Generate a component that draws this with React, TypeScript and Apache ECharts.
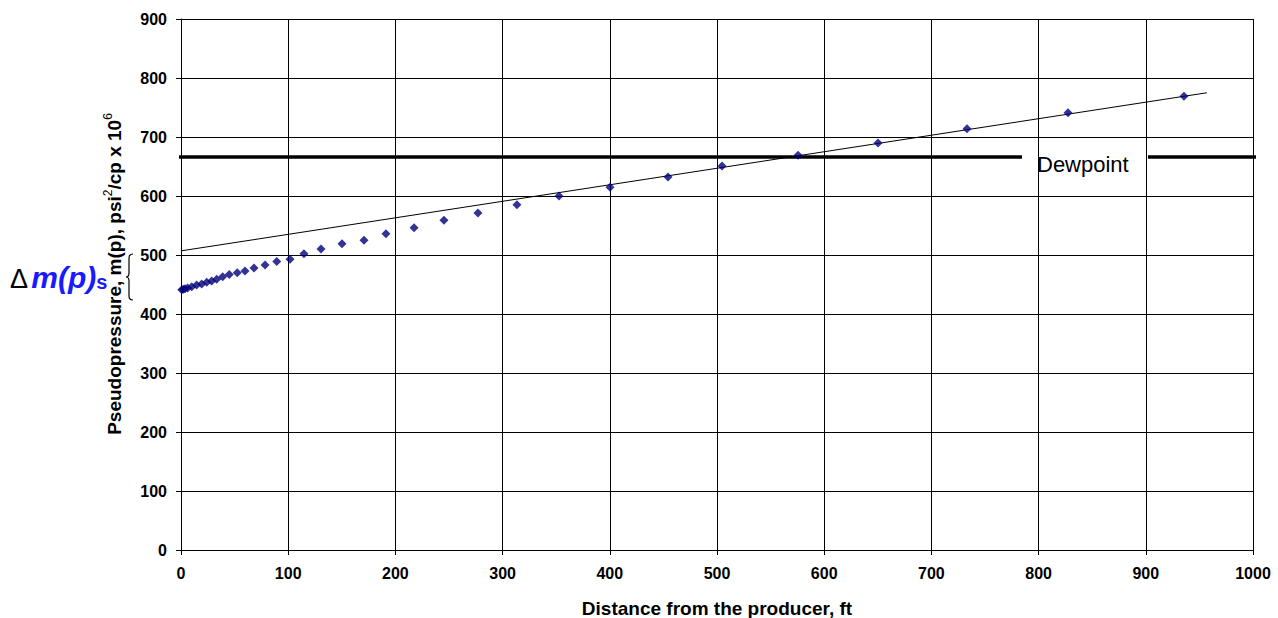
import React, { useEffect, useRef } from "react";
import * as echarts from "echarts";

const distanceFt = [
  0.7, 2.1, 3.7, 6.2, 10, 14.6, 19.3, 24, 28.6, 33.3, 38.9, 45, 52.5, 59.7, 68.1, 78.4, 89.3, 101.7,
  114.7, 130.6, 150.2, 170.7, 191.2, 217.4, 245.3, 277, 313.4, 352.6, 400.2, 454.3, 504.7, 575.6,
  650.2, 733.2, 827.4, 935.6,
];
const pseudoPressure = [
  441, 442, 443, 444, 446, 449, 451, 454, 456, 459, 463, 467, 470, 473, 478, 483, 489, 493,
  502, 510, 519, 525, 536, 546, 559, 571, 585, 600, 615, 632, 651, 669,
  690, 714, 741, 769,
];
const trendX = [0, 957];
const trendY = [507, 775];
const dewpointValue = 666;
const dewpointSegmentsX = [[-3, 784.5], [902, 1008]];
const xTicks = [0, 100, 200, 300, 400, 500, 600, 700, 800, 900, 1000];
const yTicks = [0, 100, 200, 300, 400, 500, 600, 700, 800, 900];

const FONT = "'Liberation Sans', Arial, sans-serif";

export default function App() {
  const ref = useRef<HTMLDivElement>(null);
  useEffect(() => {
    if (!ref.current) return;
    const bracePath =
      "M 7 0 Q 3 0 3 4 L 3 19 Q 3 23 0 23 Q 3 23 3 27 L 3 42 Q 3 46 7 46";
    echarts.graphic.registerShape("brace", echarts.graphic.extendPath(bracePath, {}) as any);
    const chart = echarts.init(ref.current, null, { renderer: "svg" });
    const points = distanceFt.map((x, i) => [x, pseudoPressure[i]]);
    const trend = trendX.map((x, i) => [x, trendY[i]]);
    const dewSeries = dewpointSegmentsX.map((seg) => ({
      type: "line",
      data: seg.map((x) => [x, dewpointValue]),
      symbol: "none",
      clip: false,
      lineStyle: { color: "#000", width: 3.5 },
      silent: true,
      z: 3,
    }));
    const labelStyle = {
      fontFamily: FONT,
      fontWeight: "bold",
      fontSize: 16,
      color: "#000",
      formatter: (v: number) => String(v),
    };
    chart.setOption({
      animation: false,
      grid: { left: 181, right: 25, top: 19, bottom: 68 },
      xAxis: {
        type: "value",
        min: xTicks[0],
        max: xTicks[xTicks.length - 1],
        interval: 100,
        axisLine: { lineStyle: { color: "#000", width: 1 } },
        axisTick: { show: true, length: 5, lineStyle: { color: "#000" } },
        axisLabel: { ...labelStyle, margin: 15 },
        splitLine: { show: true, lineStyle: { color: "#000", width: 1 } },
      },
      yAxis: {
        type: "value",
        min: yTicks[0],
        max: yTicks[yTicks.length - 1],
        interval: 100,
        axisLine: { show: true, lineStyle: { color: "#000", width: 1 } },
        axisTick: { show: true, length: 5, lineStyle: { color: "#000" } },
        axisLabel: { ...labelStyle, margin: 14 },
        splitLine: { show: true, lineStyle: { color: "#000", width: 1 } },
      },
      series: [
        ...dewSeries,
        {
          type: "line",
          data: trend,
          symbol: "none",
          lineStyle: { color: "#000", width: 1 },
          silent: true,
          z: 4,
        },
        {
          type: "scatter",
          data: points,
          symbol: "diamond",
          symbolSize: 9,
          itemStyle: { color: "#00007a" },
          z: 5,
        },
      ],
      graphic: [
        {
          type: "text",
          x: 717,
          y: 608,
          style: {
            text: "Distance from the producer, ft",
            fontFamily: FONT,
            fontWeight: "bold",
            fontSize: 19,
            fill: "#000",
            align: "center",
            verticalAlign: "middle",
          },
        },
        {
          type: "text",
          x: 113,
          y: 274,
          rotation: Math.PI / 2,
          style: {
            text: "{t|Pseudopressure, m(p), psi}{u|2}{t|/cp x 10}{u|6}",
            align: "center",
            verticalAlign: "middle",
            rich: {
              t: { fontFamily: FONT, fontWeight: "bold", fontSize: 19, fill: "#000", lineHeight: 22, verticalAlign: "bottom" },
              u: { fontFamily: FONT, fontWeight: "normal", fontSize: 12, fill: "#000", lineHeight: 12, verticalAlign: "top" },
            },
          },
        },
        {
          type: "text",
          left: 1037,
          top: 153,
          style: { text: "Dewpoint", fontFamily: FONT, fontSize: 22, fill: "#000" },
          z: 10,
        },
        {
          type: "text",
          left: 10,
          top: 262,
          style: {
            text: "{d|Δ} {m|m(p)}{s|s}",
            rich: {
              d: { fontFamily: FONT, fontSize: 27, fill: "#000", fontWeight: "normal", verticalAlign: "bottom" },
              m: { fontFamily: FONT, fontSize: 30, fill: "#1a1aff", fontWeight: "bold", fontStyle: "italic", verticalAlign: "bottom" },
              s: { fontFamily: FONT, fontSize: 20, fill: "#1a1aff", fontWeight: "bold", verticalAlign: "bottom", padding: [8, 0, 0, 0] },
            },
          },
          z: 10,
        },
        {
          type: "brace",
          x: 126,
          y: 254,
          style: { stroke: "#000", lineWidth: 1.2, fill: null },
          z: 10,
        },
      ],
    });
    return () => chart.dispose();
  }, []);
  return <div ref={ref} style={{ width: 1278, height: 618, position: "absolute", left: 0, top: 0 }} />;
}
